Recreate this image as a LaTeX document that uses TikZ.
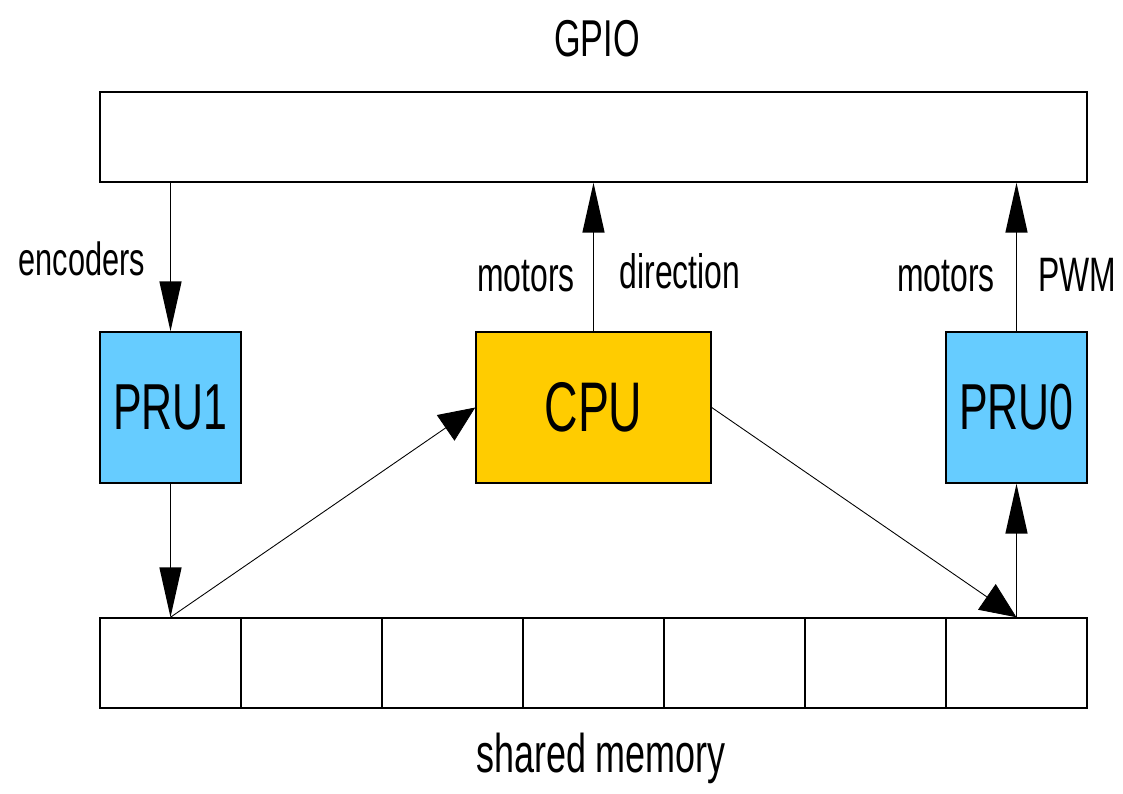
\documentclass[tikz,border=0pt]{standalone}
\usepackage{fontspec}
\setmainfont{Liberation Sans}[FakeStretch=0.66]
\usetikzlibrary{positioning, arrows.meta}
\definecolor{prublue}{HTML}{66CCFF}
\definecolor{cpuyellow}{HTML}{FFCC00}
\tikzset{main node/.style={draw, line width=0.85pt, inner sep=0pt, minimum width=2.82cm, minimum height=3.02cm},
	cell node/.style={draw, line width=0.85pt, inner sep=0pt, minimum width=2.82cm, minimum height=1.8cm},
	side text/.style={anchor=base, inner sep=0pt, font=\fontsize{27.5}{30}\selectfont},
	arr/.style={-{Triangle[length=1cm, width=0.44cm]}, line width=0.85pt},
	diag arr/.style={-{Triangle[length=0.72cm, width=0.62cm]}, line width=0.5pt},}

\begin{document}
\begin{tikzpicture}[x=0.02cm, y=-0.02cm]
	\useasboundingbox (0,0) rectangle (1123,794);
	% Blocks
	\node[draw, line width=0.85pt, minimum width=19.74cm, minimum height=1.8cm] (gpio) at (593.5,137) {};
	\node[main node, fill=prublue, font=\fontsize{37}{40}\selectfont] (pru1) at (170.5,407.5) {PRU1};
	\node[main node, fill=cpuyellow, minimum width=4.7cm, font=\fontsize{40}{44}\selectfont] (cpu) at (593.5,407.5) {CPU};
	\node[main node, fill=prublue, font=\fontsize{37}{40}\selectfont] (pru0) at (1016.5,407.5) {PRU0};
	% Shared memory cells
	\foreach \i in {0,...,6}
		\node[cell node] (mem\i) at (170.5+141*\i,663) {};
	% Texts
	\node[side text, font=\fontsize{29.5}{32}\selectfont] (gpiotext) at (597,57) {GPIO};
	\node[side text, font=\fontsize{26.5}{30}\selectfont] (enctext) at (82,275) {encoders};
	\node[side text] (cpumotors) at (526,291) {motors};
	\node[side text] (cpudir) at (680,288) {direction};
	\node[side text] (prumotors) at (946,291) {motors};
	\node[side text] (pwmtext) at (1077,291) {PWM};
	\node[side text, font=\fontsize{31}{33}\selectfont] (memtext) at (601,772) {shared memory};
	% Paths
	\draw[arr] (gpio.south -| pru1.north) -- (pru1.north);
	\draw[arr] (cpu.north) -- (gpio.south -| cpu.north);
	\draw[arr] (pru0.north) -- (gpio.south -| pru0.north);
	\draw[arr] (pru1.south) -- (mem0.north);
	\draw[arr] (mem6.north) -- (pru0.south);
	\draw[diag arr] (mem0.north) -- (cpu.west);
	\draw[diag arr] (cpu.east) -- (mem6.north);
\end{tikzpicture}
\end{document}
